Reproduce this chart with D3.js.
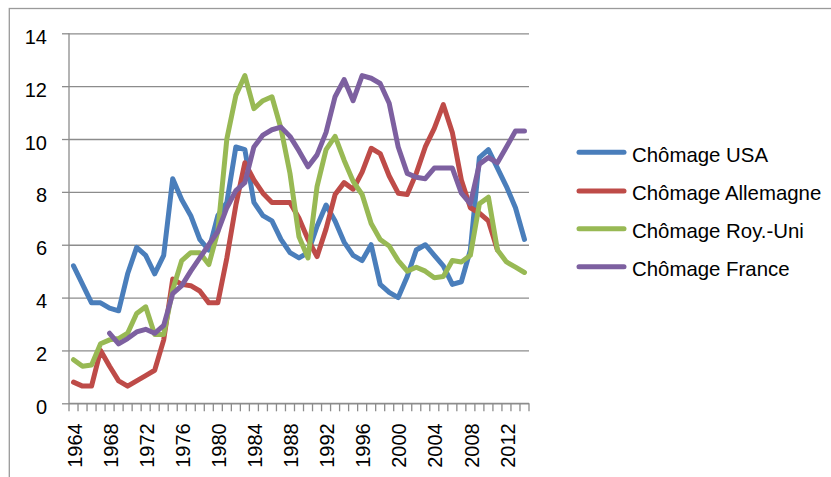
<!DOCTYPE html>
<html lang="fr">
<head>
  <meta charset="UTF-8" />
  <title>Chômage USA, Allemagne, Roy.-Uni, France</title>
  <script src="https://d3js.org/d3.v7.min.js"></script>
  <style>
    body {
      margin: 0;
      background: #fff;
      font-family: "Liberation Sans", Arial, sans-serif;
    }
    svg text {
      font-family: "Liberation Sans", Arial, sans-serif;
      fill: #000;
    }
    .grid line, .axis path, .axis line {
      stroke: #8c8c8c;
      stroke-width: 1.3px;
    }
    .serie {
      fill: none;
      stroke-width: 5px;
      stroke-linejoin: round;
      stroke-linecap: round;
    }
  </style>
</head>
<body>
  <svg id="chart"></svg>

  <script>
    // données (taux de chômage, %)
    const years = d3.range(1964, 2015);

    const chomageUSA = [
      5.2, 4.5, 3.8, 3.8, 3.6, 3.5, 4.9, 5.9, 5.6, 4.9,
      5.6, 8.5, 7.7, 7.1, 6.2, 5.8, 7.1, 7.6, 9.7, 9.6,
      7.6, 7.1, 6.9, 6.2, 5.7, 5.5, 5.7, 6.7, 7.5, 6.9,
      6.1, 5.6, 5.4, 6.0, 4.5, 4.2, 4.0, 4.8, 5.8, 6.0,
      5.6, 5.2, 4.5, 4.6, 5.8, 9.3, 9.6, 8.9, 8.2, 7.4,
      6.2
    ];

    const chomageAllemagne = [
      0.8, 0.65, 0.65, 2.0, 1.4, 0.85, 0.65, 0.85, 1.05, 1.25,
      2.4, 4.7, 4.5, 4.45, 4.25, 3.8, 3.8, 5.5, 7.5, 9.1,
      8.45, 7.95, 7.6, 7.6, 7.6, 7.0, 6.2, 5.55, 6.6, 7.9,
      8.35, 8.1, 8.75, 9.65, 9.45, 8.6, 7.95, 7.9, 8.7, 9.7,
      10.4, 11.3, 10.25, 8.45, 7.4, 7.2, 6.9, 5.8, null, null,
      null
    ];

    const chomageRoyUni = [
      1.65, 1.4, 1.45, 2.25, 2.4, 2.45, 2.65, 3.4, 3.65, 2.6,
      2.6, 4.3, 5.4, 5.7, 5.7, 5.25, 6.5, 10.0, 11.65, 12.4,
      11.15, 11.45, 11.6, 10.4, 8.7, 6.3, 5.5, 8.2, 9.6, 10.1,
      9.2, 8.4, 7.9, 6.8, 6.2, 5.95, 5.4, 5.0, 5.15, 5.0,
      4.75, 4.8, 5.4, 5.35, 5.6, 7.55, 7.8, 5.8, 5.35, 5.15,
      4.95
    ];

    const chomageFrance = [
      null, null, null, null, 2.65, 2.25, 2.45, 2.7, 2.8, 2.65,
      2.95, 4.15, 4.45, 5.0, 5.5, 6.0, 6.5, 7.4, 8.05, 8.35,
      9.7, 10.15, 10.35, 10.45, 10.1, 9.55, 8.95, 9.4, 10.25, 11.6,
      12.25, 11.45, 12.4, 12.3, 12.1, 11.35, 9.7, 8.7, 8.55, 8.5,
      8.9, 8.9, 8.9, 7.95, 7.55, 9.05, 9.3, 9.1, 9.7, 10.3,
      10.3
    ];

    const yTicks = [0, 2, 4, 6, 8, 10, 12, 14];
    const xLabelYears = years.filter((d, i) => i % 4 === 0);

    const series = [
      { name: "Chômage USA",       values: chomageUSA,       color: "#4a7ebb" },
      { name: "Chômage Allemagne", values: chomageAllemagne, color: "#be4b48" },
      { name: "Chômage Roy.-Uni",  values: chomageRoyUni,    color: "#98b954" },
      { name: "Chômage France",    values: chomageFrance,    color: "#7d60a0" }
    ];

    const W = 831, H = 477;
    const plot = { left: 69, right: 529, top: 33.3, bottom: 403.3 };

    const svg = d3.select("#chart")
                  .attr("width", W)
                  .attr("height", H);

    // cadre du graphique (coupé à droite et en bas)
    svg.append("rect")
       .attr("x", 9.3).attr("y", 8.5)
       .attr("width", 1000).attr("height", 1000)
       .attr("fill", "none")
       .attr("stroke", "#9a9a9a")
       .attr("stroke-width", 1.3);

    const x = d3.scaleBand()
                .domain(years)
                .range([plot.left, plot.right])
                .padding(0);
    const y = d3.scaleLinear()
                .domain([0, 14])
                .range([plot.bottom, plot.top]);
    const cx = d => x(d) + x.bandwidth() / 2;

    // grille horizontale + axe Y
    const yAxis = svg.append("g")
                     .attr("class", "axis grid")
                     .attr("transform", `translate(${plot.left},0)`)
                     .call(d3.axisLeft(y)
                             .tickValues(yTicks)
                             .tickSize(7)
                             .tickPadding(15)
                             .tickFormat(d3.format("d")));
    yAxis.select(".domain").attr("d", `M0,${plot.top}V${plot.bottom}`);
    yAxis.selectAll(".tick")
         .append("line")
           .attr("x1", 0)
           .attr("x2", plot.right - plot.left);
    yAxis.selectAll("text")
         .attr("dy", "0.5em")
         .style("font-size", "20px");

    // axe X : graduations entre les catégories
    const xAxis = svg.append("g")
                     .attr("class", "axis")
                     .attr("transform", `translate(0,${plot.bottom})`);
    xAxis.append("path")
         .attr("d", `M${plot.left},0H${plot.right}`);
    xAxis.selectAll(".tk")
         .data(d3.range(years.length + 1))
         .enter()
         .append("line")
           .attr("class", "tk")
           .attr("x1", k => plot.left + k * x.step())
           .attr("x2", k => plot.left + k * x.step())
           .attr("y1", 0)
           .attr("y2", 8);
    xAxis.selectAll(".lbl")
         .data(xLabelYears)
         .enter()
         .append("text")
           .attr("class", "lbl")
           .attr("transform", d => `translate(${cx(d) + 8.2},${423.3 - plot.bottom}) rotate(-90)`)
           .attr("text-anchor", "end")
           .style("font-size", "20px")
           .text(d => d);

    // courbes
    const line = d3.line()
                   .defined(d => d.v !== null)
                   .x(d => cx(d.year))
                   .y(d => y(d.v));

    svg.selectAll(".serie")
       .data(series)
       .enter()
       .append("path")
         .attr("class", "serie")
         .attr("stroke", d => d.color)
         .attr("d", d => line(years.map((yr, i) => ({ year: yr, v: d.values[i] }))));

    // légende
    const legendY = [152.3, 191, 228.8, 266.7];
    const legend = svg.selectAll(".leg")
                      .data(series)
                      .enter()
                      .append("g")
                        .attr("class", "leg")
                        .attr("transform", (d, i) => `translate(0,${legendY[i]})`);
    legend.append("line")
          .attr("x1", 579).attr("x2", 624)
          .attr("y1", 0).attr("y2", 0)
          .attr("stroke", d => d.color)
          .attr("stroke-width", 5)
          .attr("stroke-linecap", "round");
    legend.append("text")
          .attr("x", 632)
          .attr("y", 9.4)
          .style("font-size", "20.4px")
          .text(d => d.name);
  </script>
</body>
</html>
